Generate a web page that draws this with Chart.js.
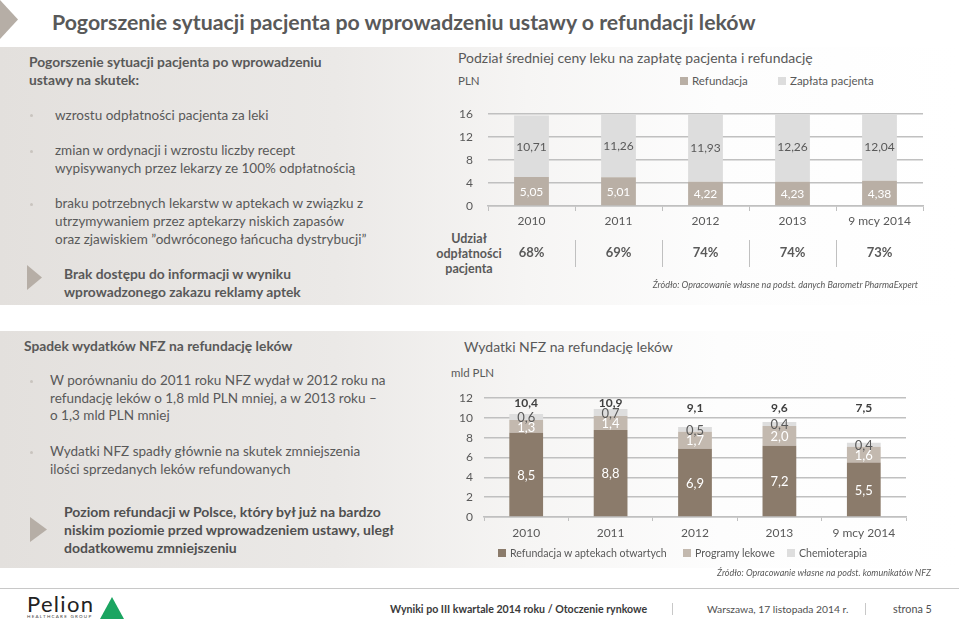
<!DOCTYPE html>
<html lang="pl">
<head>
<meta charset="utf-8">
<script src="https://cdn.jsdelivr.net/npm/chart.js@4.4.0/dist/chart.umd.min.js"></script>
<style>
body{margin:0;width:959px;height:623px;overflow:hidden;background:#fff;font-family:Lato,sans-serif;color:#595959;position:relative}
.a{position:absolute;white-space:nowrap}
.band{position:absolute;left:0;width:959px;background:linear-gradient(90deg,#e3e0dd 0%,#ebe9e7 35%,#f6f5f4 55%,#fdfdfd 75%,#fff 100%)}
.b{font-weight:bold}
.dot{position:absolute;width:3px;height:3px;background:#c9c4bf;border-radius:50%}
.tri{position:absolute;background:#b6aea6;clip-path:polygon(0 0,100% 50%,0 100%)}
.sq{display:inline-block;width:8px;height:8px;margin-right:4px;vertical-align:0}
.li{position:absolute;top:0}
canvas{position:absolute}
</style>
</head>
<body>
<div class="tri" style="left:0;top:0;width:18px;height:39px"></div>
<div class="a b" style="left:52px;top:8px;font-size:21.3px;line-height:28px;color:#595959">Pogorszenie sytuacji pacjenta po wprowadzeniu ustawy o refundacji leków</div>

<div class="band" style="top:47px;height:258px"></div>
<div class="band" style="top:331px;height:237px"></div>

<!-- lewy panel górny -->
<div class="a b" style="left:29px;top:53px;font-size:13.8px;line-height:18px">Pogorszenie sytuacji pacjenta po wprowadzeniu<br>ustawy na skutek:</div>
<div class="dot" style="left:30px;top:114px"></div>
<div class="a" style="left:55px;top:106px;font-size:13.5px;line-height:18px">wzrostu odpłatności pacjenta za leki</div>
<div class="dot" style="left:30px;top:150px"></div>
<div class="a" style="left:55px;top:142px;font-size:13.5px;line-height:17.5px">zmian w ordynacji i wzrostu liczby recept<br>wypisywanych przez lekarzy ze 100% odpłatnością</div>
<div class="dot" style="left:30px;top:203px"></div>
<div class="a" style="left:55px;top:195px;font-size:13.5px;line-height:17.8px">braku potrzebnych lekarstw w aptekach w związku z<br>utrzymywaniem przez aptekarzy niskich zapasów<br>oraz zjawiskiem ”odwróconego łańcucha dystrybucji”</div>
<div class="tri" style="left:27px;top:265px;width:15px;height:25px"></div>
<div class="a b" style="left:64px;top:265px;font-size:13.8px;line-height:18px">Brak dostępu do informacji w wyniku<br>wprowadzonego zakazu reklamy aptek</div>

<!-- wykres górny -->
<div class="a" style="left:458px;top:48px;font-size:14px;line-height:20px">Podział średniej ceny leku na zapłatę pacjenta i refundację</div>
<div class="a" style="left:458px;top:73px;font-size:11.5px;line-height:16px">PLN</div>
<div class="a" id="legendaCena" style="left:680px;top:73px;font-size:11.5px;line-height:16px"></div>
<div class="a b" style="left:436px;top:231px;width:66px;text-align:center;font-size:12.5px;line-height:15px;color:#595959">Udział<br>odpłatności<br>pacjenta</div>
<canvas id="wykresCena" width="500" height="215" style="left:440px;top:92px"></canvas>
<div class="a" style="right:41px;top:279px;font-size:9px;font-style:italic;line-height:12px">Źródło: Opracowanie własne na podst. danych Barometr PharmaExpert</div>

<!-- lewy panel dolny -->
<div class="a b" style="left:24px;top:337px;font-size:13.8px;line-height:18px">Spadek wydatków NFZ na refundację leków</div>
<div class="dot" style="left:30px;top:380px"></div>
<div class="a" style="left:50px;top:372px;font-size:13.5px;line-height:17.5px">W porównaniu do 2011 roku NFZ wydał w 2012 roku na<br>refundację leków o 1,8 mld PLN mniej, a w 2013 roku –<br>o 1,3 mld PLN mniej</div>
<div class="dot" style="left:30px;top:451px"></div>
<div class="a" style="left:50px;top:443px;font-size:13.5px;line-height:17.5px">Wydatki NFZ spadły głównie na skutek zmniejszenia<br>ilości sprzedanych leków refundowanych</div>
<div class="tri" style="left:30px;top:517px;width:17px;height:25px"></div>
<div class="a b" style="left:64px;top:503px;font-size:14px;line-height:18px;color:#505050">Poziom refundacji w Polsce, który był już na bardzo<br>niskim poziomie przed wprowadzeniem ustawy, uległ<br>dodatkowemu zmniejszeniu</div>

<!-- wykres dolny -->
<div class="a" style="left:464px;top:337px;font-size:14px;line-height:20px">Wydatki NFZ na refundację leków</div>
<div class="a" style="left:451px;top:365px;font-size:11.5px;line-height:16px">mld PLN</div>
<canvas id="wykresNFZ" width="500" height="185" style="left:440px;top:380px"></canvas>
<div class="a" id="legendaNFZ" style="left:497px;top:545px;font-size:10.6px;line-height:16px"></div>
<div class="a" style="right:28px;top:567px;font-size:9px;font-style:italic;line-height:12px">Źródło: Opracowanie własne na podst. komunikatów NFZ</div>

<!-- stopka -->
<div style="position:absolute;left:0;top:588px;width:959px;height:1px;background:#c8c8c8"></div>
<div class="a" style="left:27px;top:592px;font-size:22px;line-height:24px;color:#222;letter-spacing:1.3px">Pelion</div>
<div class="a" style="left:27px;top:614px;font-size:4.5px;line-height:6px;color:#444;letter-spacing:1.25px">HEALTHCARE GROUP</div>
<div style="position:absolute;left:100px;top:597px;width:24px;height:22px;background:#1ba561;clip-path:polygon(50% 0,100% 100%,0 100%)"></div>
<div class="a b" style="left:390px;top:601px;font-size:10.6px;line-height:16px;color:#3a3a3a">Wyniki po III kwartale 2014 roku / Otoczenie rynkowe</div>
<div style="position:absolute;left:672px;top:603px;width:1px;height:12px;background:#c8c8c8"></div>
<div class="a" style="left:707px;top:601px;font-size:10.3px;line-height:16px;color:#505050">Warszawa, 17 listopada 2014 r.</div>
<div style="position:absolute;left:865px;top:603px;width:1px;height:12px;background:#c8c8c8"></div>
<div class="a" style="left:893px;top:601px;font-size:10.8px;line-height:16px;color:#505050">strona 5</div>

<script>
// dane - wykres ceny leku
const lata = ['2010', '2011', '2012', '2013', '9 mcy 2014'];
const refundacjaCena = [5.05, 5.01, 4.22, 4.23, 4.38];
const zaplataPacjenta = [10.71, 11.26, 11.93, 12.26, 12.04];
const udzialOdplatnosci = [68, 69, 74, 74, 73];

// dane - wydatki NFZ (mld PLN)
const refundacjaApteki = [8.5, 8.8, 6.9, 7.2, 5.5];
const programyLekowe = [1.3, 1.4, 1.7, 2.0, 1.6];
const chemioterapia = [0.6, 0.7, 0.5, 0.4, 0.4];

const kolorTekstu = '#595959';
const kolorSiatki = '#c0c0c0';

Chart.defaults.font.family = 'Lato';
Chart.defaults.font.size = 12;
Chart.defaults.color = kolorTekstu;

function formatuj(v, miejsca) {
  return v.toFixed(miejsca).replace('.', ',');
}

// etykiety wewnątrz segmentów
const etykietySlupkow = {
  id: 'etykietySlupkow',
  afterDatasetsDraw(chart, args, opts) {
    const ctx = chart.ctx;
    ctx.save();
    ctx.textAlign = 'center';
    ctx.textBaseline = 'middle';
    ctx.font = opts.font;
    chart.data.datasets.forEach((ds, i) => {
      ctx.fillStyle = ds.kolorEtykiety;
      chart.getDatasetMeta(i).data.forEach((bar, j) => {
        ctx.fillText(formatuj(ds.data[j], opts.miejsca), bar.x, (bar.y + bar.base) / 2 + 1);
      });
    });
    ctx.restore();
  }
};

// wiersz z udziałem odpłatności pod osią
const wierszUdzialu = {
  id: 'wierszUdzialu',
  afterDraw(chart) {
    const { ctx, chartArea, scales: { x } } = chart;
    ctx.save();
    ctx.font = 'bold 13px Lato';
    ctx.fillStyle = kolorTekstu;
    ctx.textAlign = 'center';
    ctx.textBaseline = 'middle';
    ctx.strokeStyle = kolorSiatki;
    ctx.lineWidth = 1;
    udzialOdplatnosci.forEach((v, i) => {
      ctx.fillText(v + '%', x.getPixelForValue(i), chartArea.bottom + 47);
      if (i > 0) {
        const xs = Math.round((x.getPixelForValue(i - 1) + x.getPixelForValue(i)) / 2) + 0.5;
        ctx.beginPath();
        ctx.moveTo(xs, chartArea.bottom + 34);
        ctx.lineTo(xs, chartArea.bottom + 61);
        ctx.stroke();
      }
    });
    ctx.restore();
  }
};

// sumy nad słupkami
const sumyNFZ = {
  id: 'sumyNFZ',
  afterDraw(chart) {
    const { ctx, chartArea, scales: { x } } = chart;
    ctx.save();
    ctx.font = 'bold 12px Lato';
    ctx.fillStyle = '#404040';
    ctx.textAlign = 'center';
    ctx.textBaseline = 'middle';
    lata.forEach((l, i) => {
      const suma = refundacjaApteki[i] + programyLekowe[i] + chemioterapia[i];
      ctx.fillText(formatuj(suma, 1), x.getPixelForValue(i), chartArea.top + (suma > 10 ? 5 : 10));
    });
    ctx.restore();
  }
};

// legenda w html, pozycje elementów w px od lewej
function legenda(id, datasets, pozycje) {
  const el = document.getElementById(id);
  el.innerHTML = datasets.map((ds, i) =>
    `<span class="li" style="left:${pozycje[i]}px"><span class="sq" style="background:${ds.backgroundColor}"></span>${ds.label}</span>`
  ).join('');
}

// wykres 1
const zestawCena = [
  { label: 'Refundacja', data: refundacjaCena, backgroundColor: '#b9afa5', kolorEtykiety: '#ffffff' },
  { label: 'Zapłata pacjenta', data: zaplataPacjenta, backgroundColor: '#dddddd', kolorEtykiety: kolorTekstu }
];
legenda('legendaCena', zestawCena, [0, 98]);

new Chart(document.getElementById('wykresCena'), {
  type: 'bar',
  data: { labels: lata, datasets: zestawCena },
  options: {
    responsive: false,
    animation: false,
    layout: { padding: { top: 16, right: 17, left: 0, bottom: 0 } },
    datasets: { bar: { barPercentage: 0.4, categoryPercentage: 1 } },
    plugins: {
      legend: { display: false },
      tooltip: { enabled: false },
      etykietySlupkow: { miejsca: 2, font: '12px Lato' }
    },
    scales: {
      x: {
        stacked: true,
        grid: { offset: true, drawOnChartArea: false, tickLength: 5, color: kolorSiatki },
        border: { color: kolorSiatki, width: 1.5 },
        ticks: { padding: 3, font: { size: 12 } },
        afterFit(s) { s.height = 101; }
      },
      y: {
        stacked: true,
        min: 0,
        max: 16,
        ticks: { stepSize: 4, padding: 15, font: { size: 12 } },
        grid: { color: kolorSiatki, lineWidth: 1.5, drawTicks: false },
        border: { display: false },
        afterFit(s) { s.width = 48; }
      }
    }
  },
  plugins: [etykietySlupkow, wierszUdzialu]
});

// wykres 2
const zestawNFZ = [
  { label: 'Refundacja w aptekach otwartych', data: refundacjaApteki, backgroundColor: '#8b7b6b', kolorEtykiety: '#ffffff' },
  { label: 'Programy lekowe', data: programyLekowe, backgroundColor: '#c3b9af', kolorEtykiety: '#ffffff' },
  { label: 'Chemioterapia', data: chemioterapia, backgroundColor: '#dedede', kolorEtykiety: kolorTekstu }
];
legenda('legendaNFZ', zestawNFZ, [1, 186, 290]);

new Chart(document.getElementById('wykresNFZ'), {
  type: 'bar',
  data: { labels: lata, datasets: zestawNFZ },
  options: {
    responsive: false,
    animation: false,
    layout: { padding: { top: 12, right: 34, left: 0, bottom: 0 } },
    datasets: { bar: { barPercentage: 0.4, categoryPercentage: 1 } },
    plugins: {
      legend: { display: false },
      tooltip: { enabled: false },
      etykietySlupkow: { miejsca: 1, font: '13px Lato' }
    },
    scales: {
      x: {
        stacked: true,
        grid: { offset: true, drawOnChartArea: false, tickLength: 4, color: kolorSiatki },
        border: { color: kolorSiatki, width: 1.5 },
        ticks: { padding: 5, font: { size: 12 } },
        afterFit(s) { s.height = 48; }
      },
      y: {
        stacked: true,
        min: 0,
        max: 12,
        ticks: { stepSize: 2, padding: 11, font: { size: 12 } },
        grid: { color: kolorSiatki, lineWidth: 1.5, drawTicks: false },
        border: { display: false },
        afterFit(s) { s.width = 44; }
      }
    }
  },
  plugins: [etykietySlupkow, sumyNFZ]
});
</script>
</body>
</html>
